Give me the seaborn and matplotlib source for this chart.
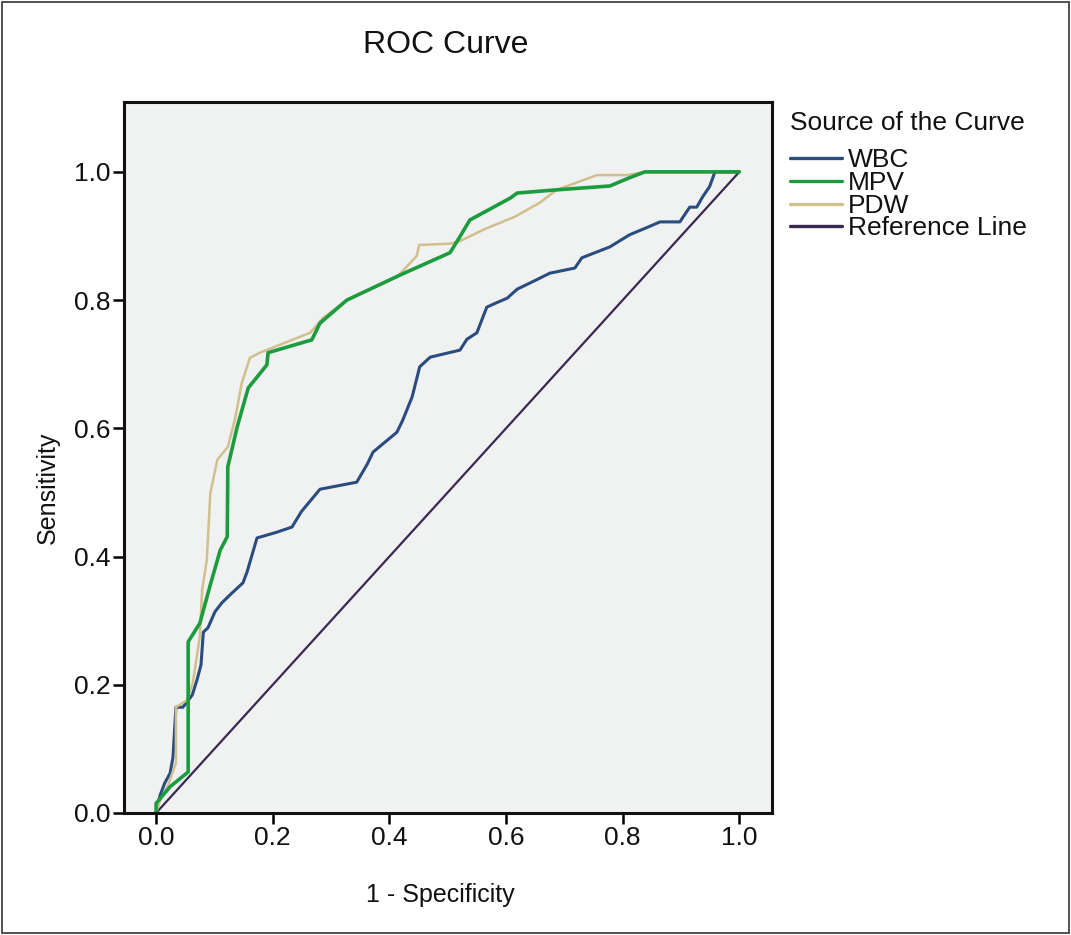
import matplotlib
matplotlib.use("Agg")
import matplotlib.pyplot as plt
import seaborn as sns
import pandas as pd
from matplotlib.lines import Line2D
from matplotlib.patches import Rectangle

sns.set_theme(style="white")
plt.rcParams['font.family'] = ['Liberation Sans', 'DejaVu Sans']

# ---- data ----
wbc_x = [0.0, 0.007, 0.015, 0.024, 0.029, 0.034, 0.046, 0.062, 0.070, 0.077, 0.081, 0.089, 0.101,
         0.113, 0.130, 0.149, 0.156, 0.173, 0.207, 0.233, 0.249, 0.281, 0.344, 0.362, 0.372, 0.413,
         0.423, 0.439, 0.452, 0.470, 0.521, 0.533, 0.550, 0.567, 0.584, 0.602, 0.619, 0.653, 0.675,
         0.718, 0.730, 0.778, 0.812, 0.841, 0.864, 0.898, 0.915, 0.927, 0.937, 0.949, 0.955, 0.958, 1.0]
wbc_y = [0.0, 0.028, 0.047, 0.062, 0.087, 0.165, 0.165, 0.184, 0.207, 0.231, 0.282, 0.289, 0.314,
         0.328, 0.343, 0.359, 0.376, 0.429, 0.438, 0.446, 0.470, 0.505, 0.516, 0.544, 0.563, 0.594,
         0.613, 0.649, 0.696, 0.711, 0.722, 0.739, 0.749, 0.789, 0.796, 0.803, 0.817, 0.832, 0.842,
         0.850, 0.866, 0.883, 0.902, 0.913, 0.922, 0.922, 0.945, 0.945, 0.961, 0.977, 0.992, 1.0, 1.0]

mpv_x = [0.0, 0.0, 0.024, 0.055, 0.055, 0.075, 0.093, 0.110, 0.122, 0.123, 0.139, 0.158, 0.190,
         0.192, 0.267, 0.281, 0.327, 0.418, 0.504, 0.521, 0.538, 0.607, 0.619, 0.687, 0.778, 0.812,
         0.838, 1.0]
mpv_y = [0.0, 0.015, 0.041, 0.064, 0.267, 0.296, 0.356, 0.410, 0.431, 0.540, 0.602, 0.663, 0.699,
         0.718, 0.738, 0.764, 0.800, 0.839, 0.874, 0.899, 0.925, 0.959, 0.967, 0.972, 0.978, 0.991,
         1.0, 1.0]

pdw_x = [0.0, 0.007, 0.021, 0.027, 0.034, 0.034, 0.053, 0.063, 0.075, 0.079, 0.087, 0.093, 0.105,
         0.123, 0.135, 0.147, 0.161, 0.178, 0.264, 0.286, 0.327, 0.413, 0.447, 0.451, 0.504, 0.521,
         0.564, 0.615, 0.658, 0.687, 0.756, 0.807, 0.838, 1.0]
pdw_y = [0.0, 0.020, 0.044, 0.060, 0.078, 0.165, 0.176, 0.203, 0.275, 0.348, 0.395, 0.499, 0.551,
         0.571, 0.613, 0.671, 0.710, 0.718, 0.749, 0.772, 0.800, 0.836, 0.869, 0.886, 0.888, 0.892,
         0.911, 0.930, 0.952, 0.972, 0.995, 0.995, 1.0, 1.0]

ref_x = [0.0, 1.0]
ref_y = [0.0, 1.0]

series_names = ["WBC", "MPV", "PDW", "Reference Line"]
colors = {"WBC": "#2a4c7e", "MPV": "#1c9c3e", "PDW": "#cfc08e", "Reference Line": "#3b2852"}
widths = {"WBC": 2.2, "MPV": 2.6, "PDW": 1.8, "Reference Line": 1.6}

xticks = [0.0, 0.2, 0.4, 0.6, 0.8, 1.0]
yticks = [0.0, 0.2, 0.4, 0.6, 0.8, 1.0]

frames = {
    "WBC": pd.DataFrame({"x": wbc_x, "y": wbc_y}),
    "MPV": pd.DataFrame({"x": mpv_x, "y": mpv_y}),
    "PDW": pd.DataFrame({"x": pdw_x, "y": pdw_y}),
    "Reference Line": pd.DataFrame({"x": ref_x, "y": ref_y}),
}

fig = plt.figure(figsize=(10.71, 9.35), dpi=100)
fig.patch.set_facecolor("white")
ax = fig.add_axes([124 / 1071, 1 - 813 / 935, (772 - 124) / 1071, (813 - 102) / 935])
ax.set_facecolor("#f0f1f1")

draw_order = ["Reference Line", "WBC", "PDW", "MPV"]
for name in draw_order:
    sns.lineplot(data=frames[name], x="x", y="y", ax=ax, color=colors[name],
                 linewidth=widths[name], estimator=None, sort=False, legend=False)

ax.set_xlim(-0.055, 1.056)
ax.set_ylim(0.0, 1.109)
ax.set_xticks(xticks)
ax.set_yticks(yticks)
ax.set_xticklabels([f"{t:.1f}" for t in xticks])
ax.set_yticklabels([f"{t:.1f}" for t in yticks])
ax.tick_params(axis="both", which="major", direction="out", length=8, width=1.8,
               color="black", labelsize=19, labelcolor="#111111", pad=1.5,
               bottom=True, left=True)
for s in ax.spines.values():
    s.set_visible(True)
    s.set_color("#111111")
    s.set_linewidth(2.2)

ax.set_xlabel("")
ax.set_ylabel("")
fig.text(440 / 1071, 1 - 895 / 935, "1 - Specificity", ha="center", va="center",
         fontsize=18, color="#111111")
fig.text(48 / 1071, 1 - 488 / 935, "Sensitivity", ha="center", va="center",
         rotation=90, fontsize=18, color="#111111")
fig.text(446 / 1071, 1 - 45 / 935, "ROC Curve", ha="center", va="center",
         fontsize=23, color="#111111")

handles = [Line2D([0], [0], color=colors[n], linewidth=2.4) for n in series_names]
leg = fig.legend(handles, series_names, title="Source of the Curve",
                 loc="upper left", bbox_to_anchor=(779 / 1071, 1 - 100 / 935),
                 frameon=False, fontsize=19, title_fontsize=19,
                 handlelength=2.0, handletextpad=0.2, labelspacing=-0.05,
                 borderaxespad=0, alignment="left")
for t in leg.get_texts():
    t.set_color("#111111")
leg.get_title().set_color("#111111")
leg._legend_box.sep = 10

fig.patches.append(Rectangle((0.002, 0.002), 0.996, 0.996, transform=fig.transFigure,
                             fill=False, edgecolor="#333333", linewidth=1.2))

fig.savefig("out.png", dpi=100)
